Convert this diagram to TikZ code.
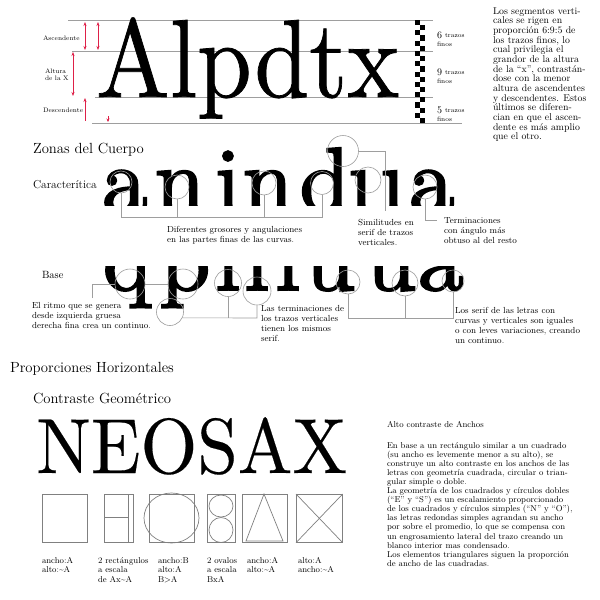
\documentclass[tikz,border=0pt]{standalone}
\usepackage{fontspec}
\usepackage{graphicx}
\usetikzlibrary{arrows.meta}
\newfontfamily\heavyfont{lmroman10-regular.otf}[FakeBold=2.2]
\newfontfamily\bigfont{lmroman10-regular.otf}[FakeBold=0.7]
\newfontfamily\midfont{lmroman10-regular.otf}[FakeBold=0.25]
\definecolor{guide}{gray}{0.62}
\definecolor{callout}{gray}{0.62}
\definecolor{shapeline}{gray}{0.5}
\definecolor{meas}{RGB}{222,32,72}
\newcommand{\linesblock}[1]{\begin{tabular}[t]{@{}l@{}}#1\end{tabular}}
\tikzset{
  txt/.style={anchor=base west, inner sep=0pt, outer sep=0pt},
  small/.style={txt, font=\fontsize{8.8}{10.2}\selectfont},
  tiny/.style={txt, font=\fontsize{6.5}{7}\selectfont},
  head/.style={txt, font=\fontsize{14.7}{16}\selectfont},
  glyph/.style={anchor=base, inner sep=0pt, font=\heavyfont\fontsize{91}{91}\selectfont},
  ring/.style={circle, draw=callout, line width=0.6pt, inner sep=0pt},
  conn/.style={draw=callout, line width=0.6pt},
  guideline/.style={draw=guide, line width=0.8pt},
  measarrow/.style={draw=meas, line width=0.8pt},
  box/.style={draw=shapeline, line width=0.7pt, anchor=north west, inner sep=0pt},
  geo/.style={draw=shapeline, line width=0.7pt},
}
\begin{document}
\begin{tikzpicture}[x=1pt,y=-1pt]
\useasboundingbox[fill=white] (0,0) rectangle (600,600);

% ---------- guide lines ----------
\coordinate (gA0) at (68,20.5);  \coordinate (gA1) at (433,20.5);
\coordinate (gX0) at (72,51);    \coordinate (gX1) at (433,51);
\coordinate (gB0) at (95,97);    \coordinate (gB1) at (433,97);
\coordinate (gD0) at (92,123);   \coordinate (gD1) at (462,123);
\draw[guideline] (gA0) -- (gA1);
\draw[guideline] (gX0) -- (gX1);
\draw[guideline] (gB0) -- (gB1);
\draw[guideline] (gD0) -- (gD1);

% big word
\node[anchor=base west, inner sep=0pt, font=\bigfont\fontsize{111}{111}\selectfont] (word) at (96,97) {\scalebox{0.885}[1]{Alpdtx}};

% red measures
\draw[measarrow, {Stealth[length=4pt,width=3pt]}-{Stealth[length=4pt,width=3pt]}] (85,22) -- (85,50);
\draw[measarrow, {Stealth[length=4pt,width=3pt]}-{Stealth[length=4pt,width=3pt]}] (98,22) -- (98,50);
\draw[measarrow, {Stealth[length=4pt,width=3pt]}-{Stealth[length=4pt,width=3pt]}] (73,52) -- (73,96);
\draw[measarrow, {Stealth[length=4pt,width=3pt]}-] (85,98) -- (85,121);
\draw[measarrow, -{Stealth[length=3.5pt,width=3pt]}] (108,116) -- (108,122);

\node[tiny] (lasc) at (43,40) {Ascendente};
\node[tiny] (lalt) at (45,73) {\linesblock{Altura\\de la X}};
\node[tiny] (ldes) at (43,112) {Descendente};

% checkerboard
\foreach \k in {0,...,19}{
  \pgfmathsetmacro{\yy}{20+\k*5.15}
  \ifodd\k
    \fill (420,\yy) rectangle (425.2,\yy+5.15);
  \else
    \fill (414.8,\yy) rectangle (420,\yy+5.15);
  \fi
}
\node[txt, font=\fontsize{10}{10}\selectfont] (n6) at (437,38) {6};
\node[tiny] (n6a) at (445,37) {trazos};
\node[tiny] (n6b) at (437,46) {finos};
\node[txt, font=\fontsize{10}{10}\selectfont] (n9) at (437,75) {9};
\node[tiny] (n9a) at (445,74) {trazos};
\node[tiny] (n9b) at (437,83) {finos};
\node[txt, font=\fontsize{10}{10}\selectfont] (n5) at (437,113) {5};
\node[tiny] (n5a) at (445,112) {trazos};
\node[tiny] (n5b) at (437,121) {finos};

\node[txt, font=\fontsize{9.8}{9.5}\selectfont] (para1) at (493,14) {\linesblock{Los segmentos verti-\\cales se rigen en\\proporción 6:9:5 de\\los trazos finos, lo\\cual privilegia el\\grandor de la altura\\de la “x”, contrastán-\\dose con la menor\\altura de ascendentes\\y descendentes. Estos\\últimos se diferen-\\cian en que el ascen-\\dente es más amplio\\que el otro.}};

% ---------- zonas del cuerpo ----------
\node[head] (zonas) at (33,153) {Zonas del Cuerpo};
\node[txt, font=\fontsize{11.5}{12}\selectfont] (carac) at (33,188) {Caracterítica};

\begin{scope}
  \clip (95,140) rectangle (465,205);
  \foreach \c/\x [count=\k] in {a/125,n/180,i/228,n/268,d/325,ı/361,ı/393,a/432}
    \node[glyph] (t\k) at (\x,211) {\c};
\end{scope}

\node[ring, minimum size=22pt] (c1) at (121,182) {};
\node[ring, minimum size=24pt] (c2) at (177,187) {};
\node[ring, minimum size=24pt] (c3) at (264,183) {};
\node[ring, minimum size=23pt] (c5) at (322,183) {};
\node[ring, minimum size=31pt] (cd) at (343,151) {};
\node[ring, minimum size=26pt] (c7) at (368,180) {};
\node[ring, minimum size=24pt] (c8) at (425,187) {};

\coordinate (tl) at (121,217);
\coordinate (tr) at (322,217);
\draw[conn] (c1.south) -- (tl) -- (tr) -- (c5.south);
\draw[conn] (c2.south) -- (c2.south |- tl);
\draw[conn] (c3.south) -- (c3.south |- tl);
\coordinate (s1) at (385,151);
\coordinate (s2) at (385,211);
\draw[conn] (cd.east) -- (s1) -- (s2);
\coordinate (te) at (437,220);
\draw[conn] (c8.south) |- (te);

\node[small] (dif) at (167,232) {\linesblock{Diferentes grosores y angulaciones\\en las partes finas de las curvas.}};
\node[small] (sim) at (358,225) {\linesblock{Similitudes en\\serif de trazos\\verticales.}};
\node[small] (ter) at (444,223) {\linesblock{Terminaciones\\con ángulo más\\obtuso al del resto}};

% ---------- base ----------
\node[txt, font=\fontsize{10.5}{11}\selectfont] (base) at (42,278) {Base};

\begin{scope}
  \clip (95,266) rectangle (470,315);
  \foreach \c/\x [count=\k] in {q/127,p/185,ı/228,ı/257,ı/288,u/330,u/391,a/441}
    \node[glyph] (u\k) at (\x,290) {\c};
\end{scope}

\node[ring, minimum size=30pt] (b1) at (130,284) {};
\node[ring, minimum size=30pt] (b2) at (183,284) {};
\node[ring, minimum size=27pt] (b3) at (170,312) {};
\node[ring, minimum size=27pt] (b4) at (228,283) {};
\node[ring, minimum size=28pt] (b5) at (257,291) {};
\node[ring, minimum size=24pt] (b6) at (348,282) {};
\node[ring, minimum size=26pt] (b7) at (405,283) {};
\node[ring, minimum size=22pt] (b8) at (453,281) {};

\coordinate (r1) at (92,298);
\draw[conn] (r1) |- (b1.west);
\draw[conn] (b1.east) -- (b2.west);
\coordinate (r2) at (257,318);
\draw[conn] (b3.-25) -- (r2) -- (b5.south);
\draw[conn] (b4.south) -- (b4.south |- r2);
\coordinate (r3) at (348,318);
\coordinate (r4) at (453,318);
\draw[conn] (b6.south) -- (r3) -- (r4) -- (b8.south);
\draw[conn] (b7.south) -- (b7.south |- r3);

\node[small] (ritmo) at (32,308) {\linesblock{El ritmo que se genera\\desde izquierda gruesa\\derecha fina crea un continuo.}};
\node[small] (term) at (261,311) {\linesblock{Las terminaciones de\\los trazos verticales\\tienen los mismos\\serif.}};
\node[small] (serif) at (455,313) {\linesblock{Los serif de las letras con\\curvas y verticales son iguales\\o con leves variaciones, creando\\un continuo.}};

% ---------- proporciones ----------
\node[head] (prop) at (10,372) {Proporciones Horizontales};
\node[head] (contr) at (33,403) {Contraste Geométrico};
\node[anchor=base west, inner sep=0pt, font=\midfont\fontsize{78}{78}\selectfont] (neosax) at (36,473) {\scalebox{0.935}[1]{NEOSAX}};

% shapes
\node[box, minimum width=45pt, minimum height=48pt] (sq1) at (42,494) {};
\node[box, minimum width=29pt, minimum height=48pt] (sq2) at (104,494) {};
\draw[geo] (128,494) -- (128,542);
\draw[geo] (104,517) -- (128,517);
\node[box, minimum width=45pt, minimum height=48pt] (sq3) at (149,494) {};
\draw[geo] (171.5,518) ellipse [x radius=27.5, y radius=25];
\node[box, minimum width=28pt, minimum height=48pt] (sq4) at (207,494) {};
\draw[geo] (221,506) ellipse [x radius=12, y radius=11];
\draw[geo] (221,530) ellipse [x radius=12, y radius=12.5];
\node[box, minimum width=45pt, minimum height=48pt] (sq5) at (242,494) {};
\draw[geo] (264,494) -- (246,541) -- (283,541) -- cycle;
\node[box, minimum width=46pt, minimum height=48pt] (sq6) at (296,494) {};
\draw[geo] (sq6.north west) -- (sq6.south east);
\draw[geo] (sq6.north east) -- (sq6.south west);

\tikzset{slbl/.style={txt, font=\fontsize{8.5}{9.5}\selectfont}}
\node[slbl] (l1) at (42,563) {\linesblock{ancho:A\\alto:\textasciitilde A}};
\node[slbl] (l2) at (98,563) {\linesblock{2 rectángulos\\a escala\\de Ax\textasciitilde A}};
\node[slbl] (l3) at (158,563) {\linesblock{ancho:B\\alto:A\\B>A}};
\node[slbl] (l4) at (207,563) {\linesblock{2 ovalos\\a escala\\BxA}};
\node[slbl] (l5) at (247,563) {\linesblock{ancho:A\\alto:\textasciitilde A}};
\node[slbl] (l6) at (298,563) {\linesblock{alto:A\\ancho:\textasciitilde A}};

\node[txt, font=\fontsize{8.5}{9.1}\selectfont] (alto) at (387,427) {Alto contraste de Anchos};
\node[txt, font=\fontsize{8.5}{9.1}\selectfont] (para2) at (387,448) {\linesblock{En base a un rectángulo similar a un cuadrado\\(su ancho es levemente menor a su alto), se\\construye un alto contraste en los anchos de las\\letras con geometría cuadrada, circular o trian-\\gular simple o doble.\\La geometría de los cuadrados y círculos dobles\\(“E” y “S”) es un escalamiento proporcionado\\de los cuadrados y círculos simples (“N” y “O”),\\las letras redondas simples agrandan su ancho\\por sobre el promedio, lo que se compensa con\\un engrosamiento lateral del trazo creando un\\blanco interior mas condensado.\\Los elementos triangulares siguen la proporción\\de ancho de las cuadradas.}};
\end{tikzpicture}
\end{document}
